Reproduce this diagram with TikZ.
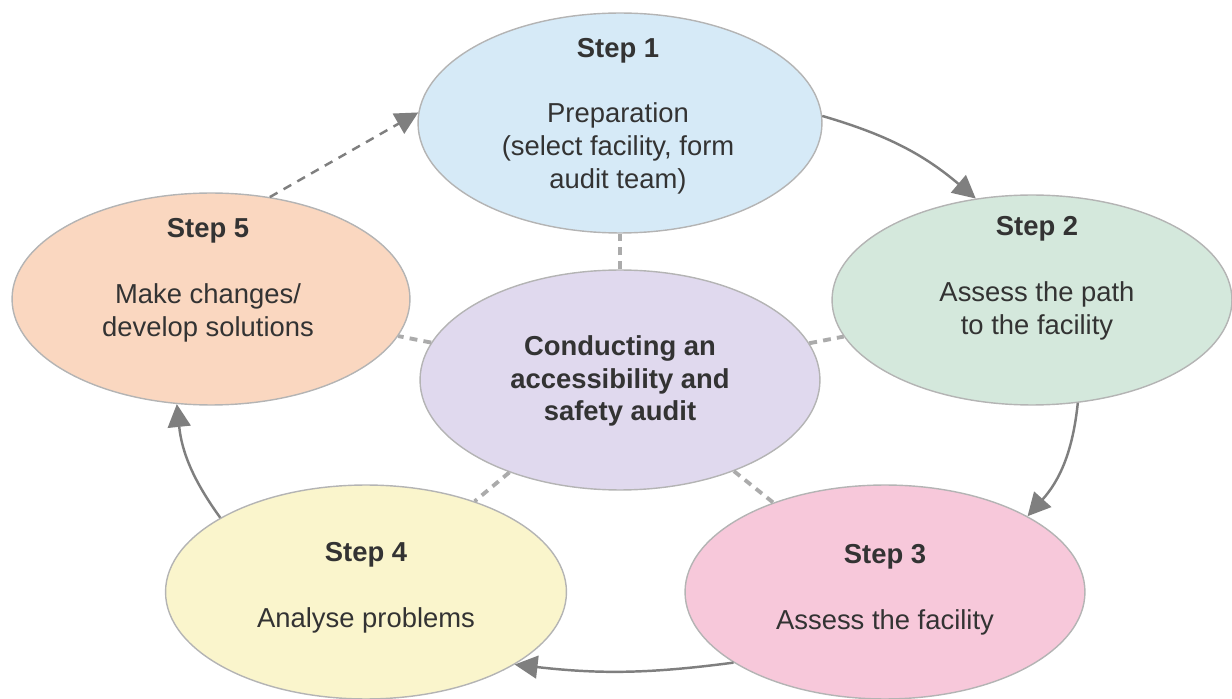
\documentclass[tikz,border=0pt]{standalone}
\usepackage{fontspec}
\setmainfont{Liberation Sans}
\usetikzlibrary{positioning}
\usetikzlibrary{shapes.geometric}
\usetikzlibrary{arrows.meta}

\definecolor{stepblue}{HTML}{D6EAF7}
\definecolor{stepgreen}{HTML}{D4E8DC}
\definecolor{steppink}{HTML}{F7C8DA}
\definecolor{stepyellow}{HTML}{FAF5CC}
\definecolor{steppeach}{HTML}{FAD7C0}
\definecolor{hublilac}{HTML}{E0D9EE}
\definecolor{rimgray}{HTML}{B4B4B4}
\definecolor{flowgray}{HTML}{7F7F7F}
\definecolor{spokegray}{HTML}{ABABAB}
\definecolor{inkgray}{HTML}{333333}

\begin{document}
\begin{tikzpicture}[x=0.02cm,y=-0.02cm,
 bubble/.style={ellipse,draw=rimgray,line width=0.8pt,minimum width=8cm,minimum height=4.28cm},
 steptext/.style={align=center,text=inkgray,inner sep=0pt,font=\fontsize{15.6}{18.7}\selectfont},
 flow/.style={draw=flowgray,line width=1.4pt,-{Triangle[length=13pt,width=13pt]}},
 spoke/.style={draw=spokegray,line width=2.2pt,dash pattern=on 4.5pt off 3.5pt}]
 \useasboundingbox (0,0) rectangle (1232,699);
 % the six ellipses
 \node[bubble,fill=stepblue,minimum width=8.08cm,minimum height=4.4cm] (s1) at (620,123) {};
 \node[bubble,fill=stepgreen,minimum height=4.2cm] (s2) at (1032,300) {};
 \node[bubble,fill=steppink] (s3) at (885,592) {};
 \node[bubble,fill=stepyellow,minimum width=8.02cm] (s4) at (366,592) {};
 \node[bubble,fill=steppeach,minimum width=7.96cm,minimum height=4.24cm] (s5) at (211,299) {};
 \node[bubble,fill=hublilac,minimum height=4.4cm] (hub) at (620,380) {};
 % texts
 \node[steptext] (t1) at (618,116) {\textbf{Step 1}\\[18.7pt]Preparation\\(select facility, form\\audit team)};
 \node[steptext] (t2) at (1037,278) {\textbf{Step 2}\\[18.7pt]Assess the path\\ to the facility};
 \node[steptext] (t3) at (885,590) {\textbf{Step 3}\\[18.7pt]Assess the facility};
 \node[steptext] (t4) at (366,588) {\textbf{Step 4}\\[18.7pt]Analyse problems};
 \node[steptext] (t5) at (208,280) {\textbf{Step 5}\\[18.7pt]Make changes/\\develop solutions};
 \node[steptext,font=\fontsize{15.6}{18.7}\selectfont\bfseries] (th) at (620,381) {Conducting an\\accessibility and\\safety audit};
 % dashed spokes
 \draw[spoke] (hub) -- (s1);
 \draw[spoke] (hub) -- (s2);
 \draw[spoke] (hub) -- (s3);
 \draw[spoke] (hub) -- (s4);
 \draw[spoke] (hub) -- (s5);
 % the cycle
 \draw[flow] (s1.2) to[bend left=12] (s2.119);
 \draw[flow] (s2.-66) to[bend left=18] (s3.28);
 \draw[flow] (s3.205) to[bend left=7] (s4.-26);
 \draw[flow] (s4.153) to[bend left=15] (s5.252);
 \draw[flow,dashed,dash pattern=on 5pt off 4pt] (s5.60) -- (s1.177);
\end{tikzpicture}
\end{document}
